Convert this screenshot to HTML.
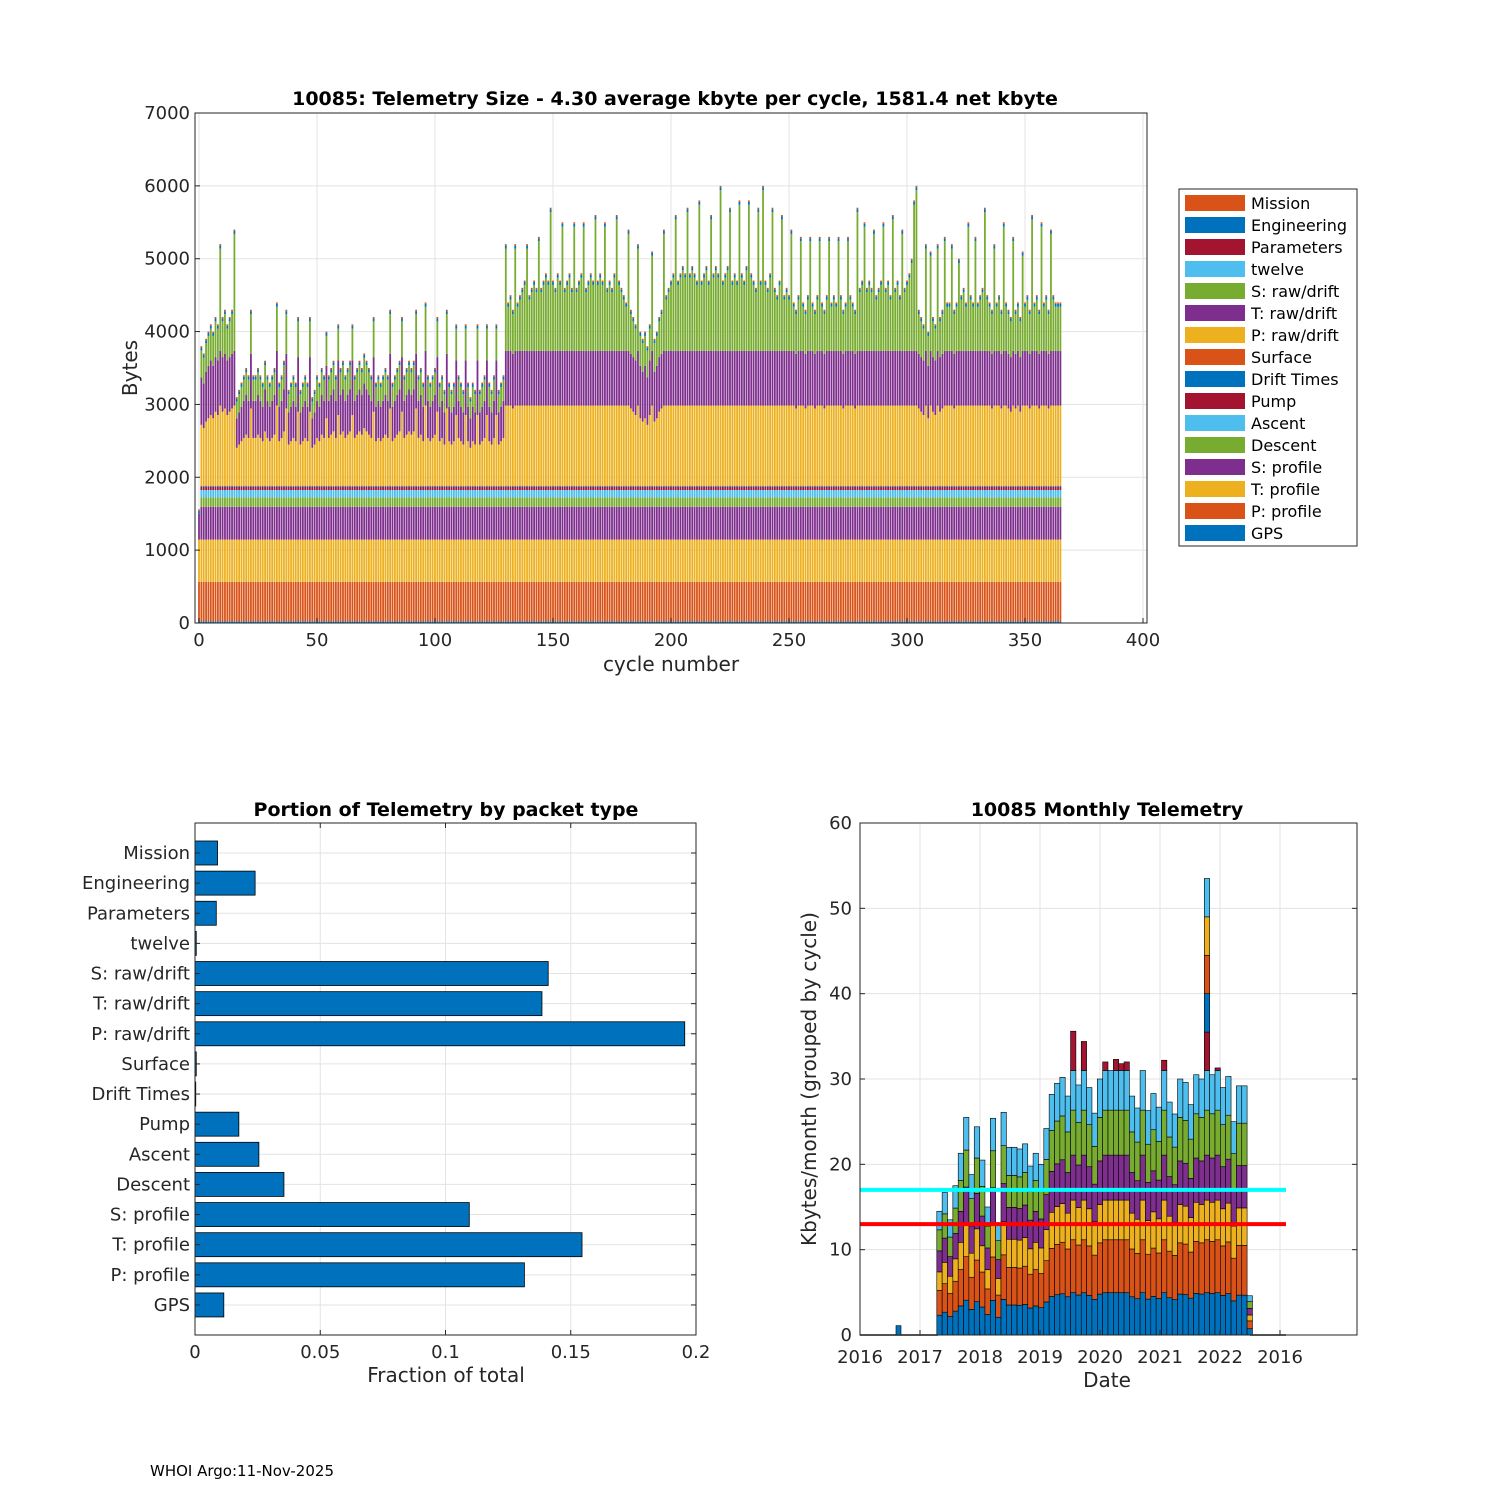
<!DOCTYPE html>
<html><head><meta charset="utf-8"><style>
body{margin:0;background:#fff;}
svg{font-family:"DejaVu Sans","Liberation Sans",sans-serif;}
</style></head><body>
<svg id="s" width="1500" height="1500" viewBox="0 0 1500 1500">
<rect width="1500" height="1500" fill="#fff"/>
<g id="top"></g>
<g id="bl"></g>
<g id="br"></g>
<text x="150" y="1476" font-size="15">WHOI Argo:11-Nov-2025</text>
</svg>
<script>
// ---------- data ----------
const cycleTotals = [15,38,37,39,40,41,40,42,41,52, 42,43,41,42,43,54,31,32,33,34, 35,34,43,34,34,35,34,33,36,34,
33,34,35,44,33,34,36,43,32,33, 34,33,42,32,33,34,33,42,31,32, 34,33,35,34,40,34,35,36,34,41,
35,36,34,35,36,41,34,35,36,35, 37,36,35,34,42,33,34,33,34,35, 34,43,33,34,35,36,42,34,35,36,
35,36,43,34,35,33,44,34,33,34, 35,42,33,34,32,43,33,32,33,41, 34,33,32,41,33,31,33,32,41,32,
33,34,41,33,32,34,41,32,33,34, 52,44,45,43,52,44,45,46,47,52, 45,46,47,46,53,46,47,48,47,57,
47,46,48,47,55,46,47,48,46,55, 46,47,48,55,46,47,48,47,56,47, 48,47,55,46,47,46,48,56,47,46,
45,44,54,43,42,41,52,40,39,40, 38,41,51,39,40,42,43,54,45,46, 47,48,56,47,48,49,48,57,48,49,
48,47,58,47,48,49,47,56,48,49, 48,60,47,48,49,57,47,48,47,58, 48,47,49,58,48,47,46,57,47,60,
47,46,48,57,46,45,47,56,45,46, 45,54,44,43,45,53,44,43,45,53, 44,43,45,53,44,43,45,53,44,45,
44,53,45,43,44,53,45,44,43,57, 46,47,55,46,47,46,54,45,46,47, 55,46,47,45,56,46,47,45,54,46,
47,48,50,58,60,43,42,41,52,40, 51,42,41,52,42,43,53,44,44,52, 43,44,50,45,46,44,55,45,44,53,
44,45,46,57,45,44,43,52,44,45, 43,55,44,43,42,53,43,44,42,51, 44,45,43,56,44,45,43,55,44,45,
43,54,45,44,44,44];
const baseSeries = ["GPS","P: profile","T: profile","S: profile","Descent","Ascent","Pump","Drift Times","Surface"];
const baseBytes = [25,540,580,450,130,100,45,10,5];
const legendNames = ["Mission","Engineering","Parameters","twelve","S: raw/drift","T: raw/drift","P: raw/drift","Surface","Drift Times","Pump","Ascent","Descent","S: profile","T: profile","P: profile","GPS"];
const portionCats = ["Mission","Engineering","Parameters","twelve","S: raw/drift","T: raw/drift","P: raw/drift","Surface","Drift Times","Pump","Ascent","Descent","S: profile","T: profile","P: profile","GPS"];
const portionVals = [0.009,0.024,0.0085,0.0005,0.141,0.1385,0.1955,0.0005,0.0003,0.0175,0.0255,0.0355,0.1095,0.1545,0.1315,0.0115];
const monthTotals = [14.5,16.7,13.5,17.5,21.3,25.5,18.8,24.4,20.5,15,25.4,13,26.1,22,22,21.8,22.4,19.8,21.3,20,24.2,28.2,29.5,30.2,28,35.6,29.3,34.4,29,26,30,32,31,32.3,31.8,32,28,26.6,31,26.3,28.3,26.7,32.2,27.3,25.9,30,29.6,27,30.5,30,53.5,30.5,31.3,29,30.3,25,29.2,29.2,4.6];
const monthStart = 2017.28;
const xTicksTop = [0,50,100,150,200,250,300,350,400];
const yTicksTop = [0,1000,2000,3000,4000,5000,6000,7000];
const xTicksBL = [0,0.05,0.1,0.15,0.2];
const xTickLabelsBL = ["0","0.05","0.1","0.15","0.2"];
const yTicksBR = [0,10,20,30,40,50,60];
const xTicksBR = [2016,2017,2018,2019,2020,2021,2022,2023];
const xTickLabelsBR = ["2016","2017","2018","2019","2020","2021","2022","2016"];
const avgLines = [17,13];

const NS="http://www.w3.org/2000/svg";
const C={blue:"#0072BD",orange:"#D95319",yellow:"#EDB120",purple:"#7E2F8E",green:"#77AC30",cyan:"#4DBEEE",red:"#A2142F"};
const colorOf={"GPS":C.blue,"P: profile":C.orange,"T: profile":C.yellow,"S: profile":C.purple,"Descent":C.green,"Ascent":C.cyan,"Pump":C.red,"Drift Times":C.blue,"Surface":C.orange,"P: raw/drift":C.yellow,"T: raw/drift":C.purple,"S: raw/drift":C.green,"twelve":C.cyan,"Parameters":C.red,"Engineering":C.blue,"Mission":C.orange};
function el(p,t,a,txt){const e=document.createElementNS(NS,t);for(const k in a)e.setAttribute(k,a[k]);if(txt!=null)e.textContent=txt;p.appendChild(e);return e;}

// ---------- top chart ----------
(function(){
const g=document.getElementById('top');
const L=195,R=1147,T=113,B=623;
const x=v=>199+v*2.36, y=v=>B-v*(B-T)/7000;
el(g,'rect',{x:L,y:T,width:R-L,height:B-T,fill:'#fff'});
xTicksTop.forEach(t=>{el(g,'line',{x1:x(t),x2:x(t),y1:T,y2:B,stroke:'#e3e3e3'});});
yTicksTop.forEach(t=>{el(g,'line',{x1:L,x2:R,y1:y(t),y2:y(t),stroke:'#e3e3e3'});});
cycleTotals.forEach((tv,i)=>{
  const total=tv*100;
  let acc=0;const segs=[];
  baseSeries.forEach((n,k)=>{let v=Math.min(baseBytes[k],Math.max(0,total-acc));segs.push([n,v]);acc+=v;});
  const top=60, R0=Math.max(0,total-acc-top);
  const p=Math.min(R0*0.45,1100), tt=Math.min(R0*0.35,750), s=R0-p-tt;
  segs.push(["P: raw/drift",p],["T: raw/drift",tt],["S: raw/drift",s],["Engineering",40],["Mission",20]);
  let cum=0;
  const bg=el(g,'g',{});
  
  
  segs.forEach(([n,v])=>{ if(v<=0)return;
    el(bg,'rect',{x:x(i)-0.9,y:y(cum+v),width:1.8,height:y(cum)-y(cum+v),fill:colorOf[n]});
    cum+=v;});
});
el(g,'rect',{x:L,y:T,width:R-L,height:B-T,fill:'none',stroke:'#262626'});
xTicksTop.forEach(t=>{el(g,'line',{x1:x(t),x2:x(t),y1:B,y2:B-5,stroke:'#262626'});
  const e=el(g,'text',{x:x(t),y:B+23,'font-size':18,'text-anchor':'middle',fill:'#262626'},t);
  });
yTicksTop.forEach(t=>{el(g,'line',{x1:L,x2:L+5,y1:y(t),y2:y(t),stroke:'#262626'});
  const e=el(g,'text',{x:L-5,y:y(t)+6,'font-size':18,'text-anchor':'end',fill:'#262626'},t);
  });
let e=el(g,'text',{x:675,y:105,'font-size':19,'font-weight':'bold','text-anchor':'middle'},'10085: Telemetry Size - 4.30 average kbyte per cycle, 1581.4 net kbyte');

e=el(g,'text',{x:671,y:671,'font-size':20,'text-anchor':'middle',fill:'#262626'},'cycle number');

e=el(g,'text',{x:137,y:368,'font-size':20,'text-anchor':'middle',fill:'#262626',transform:'rotate(-90 137 368)'},'Bytes');

const lg=el(g,'g',{});

el(lg,'rect',{x:1179,y:189,width:178,height:357,fill:'#fff',stroke:'#262626'});
legendNames.forEach((n,k)=>{const yy=203+k*22;
  const eg=el(lg,'g',{});
  
  el(eg,'rect',{x:1185,y:yy-8,width:60,height:16,fill:colorOf[n]});
  el(eg,'text',{x:1251,y:yy+6,'font-size':16,fill:'#000'},n);});
})();

// ---------- bottom left ----------
(function(){
const g=document.getElementById('bl');
const L=195,R=696,T=823,B=1335;
const x=v=>L+v*(R-L)/0.2, y=i=>853+i*30.13;
xTicksBL.forEach(t=>el(g,'line',{x1:x(t),x2:x(t),y1:T,y2:B,stroke:'#e3e3e3'}));
portionCats.forEach((c,i)=>el(g,'line',{x1:L,x2:R,y1:y(i),y2:y(i),stroke:'#e3e3e3'}));
portionVals.forEach((v,i)=>{
  const r=el(g,'rect',{x:L,y:y(i)-12,width:x(v)-L,height:24,fill:C.blue,stroke:'#000','stroke-width':0.8});
  
  
});
el(g,'rect',{x:L,y:T,width:R-L,height:B-T,fill:'none',stroke:'#262626'});
xTicksBL.forEach((t,k)=>{el(g,'line',{x1:x(t),x2:x(t),y1:B,y2:B-5,stroke:'#262626'});el(g,'line',{x1:x(t),x2:x(t),y1:T,y2:T+5,stroke:'#262626'});
  el(g,'text',{x:x(t),y:B+23,'font-size':18,'text-anchor':'middle',fill:'#262626'},xTickLabelsBL[k]);});
portionCats.forEach((c,i)=>{el(g,'line',{x1:L,x2:L+5,y1:y(i),y2:y(i),stroke:'#262626'});el(g,'line',{x1:R,x2:R-5,y1:y(i),y2:y(i),stroke:'#262626'});
  const e=el(g,'text',{x:L-5,y:y(i)+6,'font-size':18,'text-anchor':'end',fill:'#262626'},c);
  });
let e=el(g,'text',{x:446,y:816,'font-size':19,'font-weight':'bold','text-anchor':'middle'},'Portion of Telemetry by packet type');

e=el(g,'text',{x:446,y:1382,'font-size':20,'text-anchor':'middle',fill:'#262626'},'Fraction of total');

})();

// ---------- bottom right ----------
(function(){
const g=document.getElementById('br');
const L=860,R=1357,T=823,B=1335;
const x=v=>L+(v-2016)*60, y=v=>B-v*(B-T)/60;
const step=5.35;
xTicksBR.forEach(t=>el(g,'line',{x1:x(t),x2:x(t),y1:T,y2:B,stroke:'#e3e3e3'}));
yTicksBR.forEach(t=>el(g,'line',{x1:L,x2:R,y1:y(t),y2:y(t),stroke:'#e3e3e3'}));
el(g,'line',{x1:x(2016),x2:x(2017.3),y1:y(0),y2:y(0),stroke:'#000','stroke-width':1.5});
el(g,'line',{x1:x(2022.5),x2:x(2023.1),y1:y(0),y2:y(0),stroke:'#000','stroke-width':1.5});
el(g,'rect',{x:x(2016.6),y:y(1.1),width:5,height:y(0)-y(1.1),fill:C.blue,stroke:'#000','stroke-width':0.6});
const fr=[0.16,0.2,0.15,0.17,0.17,0.15];
const cols=[C.blue,C.orange,C.yellow,C.purple,C.green,C.cyan];
const extraCols=[C.red,C.blue,C.orange,C.yellow,C.cyan];
monthTotals.forEach((tv,i)=>{
  const xm=x(monthStart)+i*step;
  const bg=el(g,'g',{});
  
  
  const base=Math.min(tv,31);
  let cum=0;
  fr.forEach((f,k)=>{const v=base*f;
    el(bg,'rect',{x:xm,y:y(cum+v),width:step,height:y(cum)-y(cum+v),fill:cols[k],stroke:'#000','stroke-width':0.6});cum+=v;});
  const extra=tv-cum;
  if(extra>10){const part=extra/extraCols.length;
    extraCols.forEach(c=>{el(bg,'rect',{x:xm,y:y(cum+part),width:step,height:y(cum)-y(cum+part),fill:c,stroke:'#000','stroke-width':0.6});cum+=part;});
  } else if(extra>0){el(bg,'rect',{x:xm,y:y(tv),width:step,height:y(cum)-y(tv),fill:C.red,stroke:'#000','stroke-width':0.6});}
});
const lc=['#00FFFF','#FF0000'];
avgLines.forEach((v,k)=>{const e=el(g,'line',{x1:x(2016),x2:x(2023.1),y1:y(v),y2:y(v),stroke:lc[k],'stroke-width':4});
  });
el(g,'rect',{x:L,y:T,width:R-L,height:B-T,fill:'none',stroke:'#262626'});
xTicksBR.forEach((t,k)=>{el(g,'line',{x1:x(t),x2:x(t),y1:B,y2:B-5,stroke:'#262626'});
  el(g,'text',{x:x(t),y:B+28,'font-size':18,'text-anchor':'middle',fill:'#262626'},xTickLabelsBR[k]);});
yTicksBR.forEach(t=>{el(g,'line',{x1:L,x2:L+5,y1:y(t),y2:y(t),stroke:'#262626'});el(g,'line',{x1:R,x2:R-5,y1:y(t),y2:y(t),stroke:'#262626'});
  el(g,'text',{x:L-8,y:y(t)+6,'font-size':18,'text-anchor':'end',fill:'#262626'},t);});
let e=el(g,'text',{x:1107,y:816,'font-size':19,'font-weight':'bold','text-anchor':'middle'},'10085 Monthly Telemetry');

e=el(g,'text',{x:1107,y:1387,'font-size':20,'text-anchor':'middle',fill:'#262626'},'Date');

e=el(g,'text',{x:816,y:1079,'font-size':20,'text-anchor':'middle',fill:'#262626',transform:'rotate(-90 816 1079)'},'Kbytes/month (grouped by cycle)');

})();
</script>
</body></html>
